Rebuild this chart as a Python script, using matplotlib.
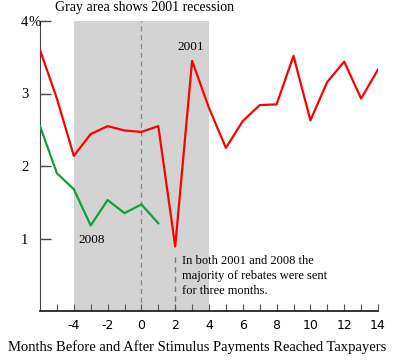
import matplotlib.pyplot as plt

months = [-6, -5, -4, -3, -2, -1, 0, 1, 2, 3, 4, 5, 6, 7, 8, 9, 10, 11, 12, 13, 14]
rate_2001 = [3.60, 2.93, 2.14, 2.44, 2.55, 2.49, 2.47, 2.55, 0.89, 3.45, 2.80,
             2.25, 2.62, 2.84, 2.85, 3.52, 2.63, 3.16, 3.44, 2.93, 3.33]
months_2008 = [-6, -5, -4, -3, -2, -1, 0, 1]
rate_2008 = [2.55, 1.90, 1.68, 1.18, 1.53, 1.35, 1.47, 1.21]

recession = (-4, 4)
yticks = [1, 2, 3, 4]
ytick_labels = ['1', '2', '3', '4']
xticks = [-4, -2, 0, 2, 4, 6, 8, 10, 12, 14]

serif = 'Liberation Serif'
plt.rcParams['axes.unicode_minus'] = False

fig = plt.figure(figsize=(3.98, 3.63), dpi=100)
ax = fig.add_axes([40 / 398, 52 / 363, 338 / 398, 290 / 363])

ax.axvspan(recession[0], recession[1], color='#d3d3d3', lw=0, zorder=0)
ax.axvline(0, color='#888888', lw=0.9, ls=(0, (4, 3)), zorder=1)
ax.plot([2, 2], [0, 0.75], color='#777777', lw=1.0, ls=(0, (4, 3)), zorder=1)

ax.plot(months, rate_2001, color='#ff0000', lw=1.6, zorder=3)
ax.plot(months_2008, rate_2008, color='#12a03c', lw=1.6, zorder=3)

ax.text(2.9, 3.6, '2001', fontsize=9.5, family=serif, ha='center', va='baseline')
ax.text(-2.95, 0.94, '2008', fontsize=9.5, family=serif, ha='center', va='baseline')
ax.text(2.4, 0.77, 'In both 2001 and 2008 the\nmajority of rebates were sent\nfor three months.',
        fontsize=9, family=serif, ha='left', va='top', linespacing=1.32)

ax.set_xlim(-6, 14)
ax.set_ylim(0, 4)

for s in ['top', 'right']:
    ax.spines[s].set_visible(False)
ax.spines['left'].set_color('#444444')
ax.spines['bottom'].set_color('#222222')
ax.spines['bottom'].set_linewidth(1.3)

ax.set_yticks(yticks)
ax.set_yticklabels(ytick_labels, family=serif, fontsize=10.5)
ax.tick_params(axis='y', direction='in', length=8, width=1, color='#444444', pad=8.5)
ax.annotate('%', xy=(0, 4), xycoords=('axes fraction', 'data'),
            xytext=(-8.5, 0), textcoords='offset points',
            ha='left', va='center_baseline', family=serif, fontsize=10.5)

ax.set_xticks(xticks)
ax.set_xticks(range(-5, 15), minor=True)
ax.tick_params(axis='x', which='both', direction='in', length=5, width=0.8,
               color='#555555', labelsize=9, pad=6)

ax.set_xlabel('Months Before and After Stimulus Payments Reached Taxpayers',
              family=serif, fontsize=10.5)
ax.xaxis.set_label_coords((197 - 40) / 338, -29 / 290)
fig.text(145 / 398, 1 - 8 / 363, 'Gray area shows 2001 recession',
         family=serif, fontsize=10, ha='center', va='center')

fig.savefig('out.png', dpi=100)
